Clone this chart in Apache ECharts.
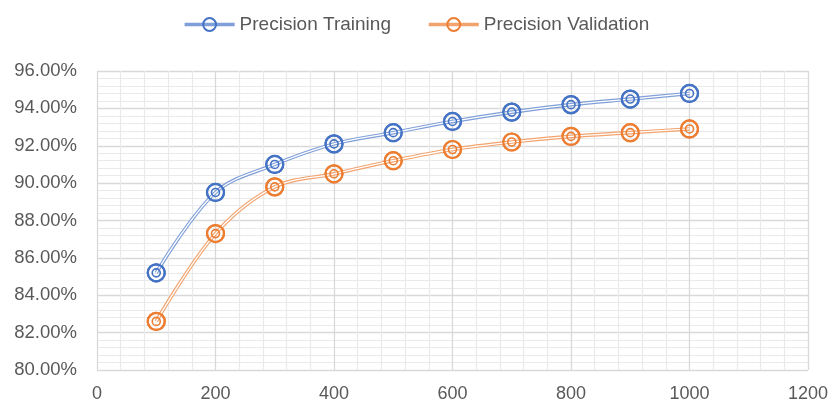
<!DOCTYPE html>
<html><head><meta charset="utf-8">
<script src="https://cdn.jsdelivr.net/npm/echarts@6/dist/echarts.min.js"></script>
<style>html,body{margin:0;padding:0;background:#fff}#c{width:832px;height:407px}</style>
</head><body><div id="c"></div>
<script>
const xValues = [100, 200, 300, 400, 500, 600, 700, 800, 900, 1000];
const trainingPct = [85.2, 89.5, 91.0, 92.1, 92.7, 93.3, 93.8, 94.2, 94.5, 94.8];
const validationPct = [82.6, 87.3, 89.8, 90.5, 91.2, 91.8, 92.2, 92.5, 92.7, 92.9];
const seriesNames = ['Precision Training', 'Precision Validation'];
const colors = ['#4472C4', '#ED7D31'];
const lightColors = ['#7f9fd8', '#f2a36e'];

const FONT = 'Liberation Sans';
function pairs(vals){ return xValues.map((x,i)=>[x, vals[i]]); }
function build(name, vals, idx){
  const d = pairs(vals);
  return [
    { name: name, type:'line', data:d, smooth:0.35, z:2,
      symbol:'circle', symbolSize:17, showSymbol:true,
      lineStyle:{ color: lightColors[idx], width:3.6 },
      itemStyle:{ color:'rgba(255,255,255,0)', borderColor: colors[idx], borderWidth:2.2 },
      emphasis:{disabled:true} },
    { name: name+'_inner', type:'line', data:d, smooth:0.35, z:3, symbol:'none',
      lineStyle:{ color:'#ffffff', width:1.3 }, emphasis:{disabled:true}, silent:true },
    { name: name+'_ring', type:'line', data:d, z:4,
      symbol:'circle', symbolSize:17, showSymbol:true, lineStyle:{ width:0, opacity:0 },
      itemStyle:{ color:'rgba(255,255,255,0)', borderColor: colors[idx], borderWidth:2.2 },
      emphasis:{disabled:true}, silent:true },
    { name: name+'_inring', type:'line', data:d, z:5,
      symbol:'circle', symbolSize:8, showSymbol:true, lineStyle:{ width:0, opacity:0 },
      itemStyle:{ color:'rgba(255,255,255,0)', borderColor: colors[idx], borderWidth:1.6 },
      emphasis:{disabled:true}, silent:true }
  ];
}

const chart = echarts.init(document.getElementById('c'), null, {renderer:'canvas'});
chart.setOption({
  animation:false,
  textStyle:{fontFamily:FONT},
  legend:{
    data: seriesNames, top:10, left:'center', itemWidth:50, itemHeight:16, itemGap:36,
    lineStyle:{ width:3.6 },
    textStyle:{ fontFamily:FONT, fontSize:19, color:'#595959' }
  },
  grid:{ left:97, right:24, top:71, bottom:37, containLabel:false },
  xAxis:{
    type:'value', min:0, max:1200, interval:200,
    axisLine:{show:false}, axisTick:{show:false},
    axisLabel:{ fontFamily:FONT, fontSize:18, color:'#595959', margin:15,
      formatter: v => String(v) },
    splitLine:{ show:true, lineStyle:{ color:'#d9d9d9', width:1.3 } },
    minorTick:{ show:false, splitNumber:5 },
    minorSplitLine:{ show:true, lineStyle:{ color:'#eaeaea', width:1.2 } }
  },
  yAxis:{
    type:'value', min:80, max:96, interval:2,
    axisLine:{show:false}, axisTick:{show:false},
    axisLabel:{ fontFamily:FONT, fontSize:18.5, color:'#595959', margin:20,
      formatter: v => v.toFixed(2)+'%' },
    splitLine:{ show:true, lineStyle:{ color:'#d9d9d9', width:1.3 } },
    minorTick:{ show:false, splitNumber:5 },
    minorSplitLine:{ show:true, lineStyle:{ color:'#eaeaea', width:1.2 } }
  },
  series: [].concat(build(seriesNames[0], trainingPct, 0), build(seriesNames[1], validationPct, 1))
});
</script></body></html>
